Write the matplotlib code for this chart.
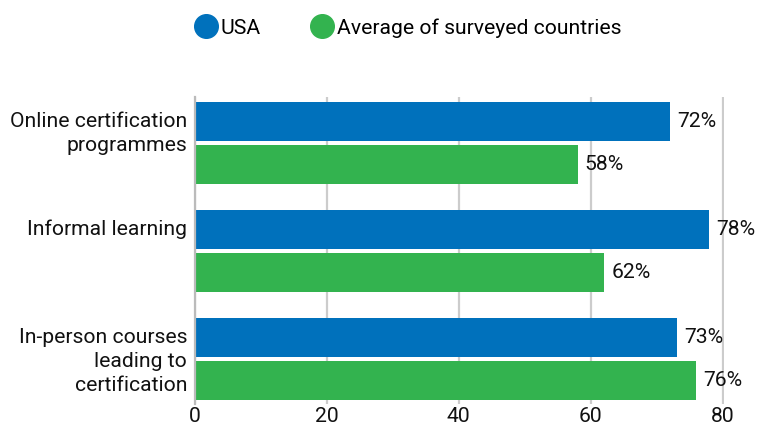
import numpy as np
import matplotlib
matplotlib.use('Agg')
from matplotlib import pyplot as plt
from matplotlib.lines import Line2D

plt.rcParams['font.family'] = ['Roboto', 'DejaVu Sans']

# data
categories = ['Online certification\nprogrammes', 'Informal learning',
              'In-person courses\nleading to\ncertification']
usa = [72, 78, 73]
average = [58, 62, 76]
series_names = ['USA', 'Average of surveyed countries']
xticks = [0, 20, 40, 60, 80]

blue = '#0071bc'
green = '#33b34f'
fs = 15.2

fig = plt.figure(figsize=(7.57, 4.28), dpi=100)
ax = fig.add_axes([0.2576, 0.056, 0.6988, 0.7178])

pos = np.arange(len(categories))
h = 0.36
off = 0.2
ax.barh(pos - off, usa, height=h, color=blue, zorder=2)
ax.barh(pos + off, average, height=h, color=green, zorder=2)

for i in range(len(categories)):
    ax.text(usa[i] + 1.1, pos[i] - off, '%d%%' % usa[i], va='center', ha='left',
            fontsize=fs, color='#111111')
    ax.text(average[i] + 1.1, pos[i] + off, '%d%%' % average[i], va='center', ha='left',
            fontsize=fs, color='#111111')
    ax.text(-1.2, pos[i] - 0.29, categories[i], va='top', ha='right',
            fontsize=fs, color='#111111', linespacing=1.35)

ax.set_xlim(0, 80.2)
ax.set_ylim(2.417, -0.426)
ax.set_xticks(xticks)
ax.set_xticklabels([str(t) for t in xticks], fontsize=fs, color='#111111')
ax.set_yticks([])
ax.tick_params(axis='x', length=0, pad=2)
ax.grid(axis='x', color='#cccccc', linewidth=1.6, zorder=0)
ax.set_axisbelow(True)
for s in ['top', 'right', 'bottom']:
    ax.spines[s].set_visible(False)
ax.spines['left'].set_color('#bbbbbb')
ax.spines['left'].set_linewidth(1.6)

handles = [Line2D([], [], marker='o', linestyle='none', markersize=17, color=blue),
           Line2D([], [], marker='o', linestyle='none', markersize=17, color=green)]
fig.legend(handles, series_names, loc='center', bbox_to_anchor=(0.537, 0.935), ncol=2,
           frameon=False, fontsize=fs, handletextpad=0.0, columnspacing=2.2,
           handlelength=1.4)

fig.savefig('out.png', dpi=100)
